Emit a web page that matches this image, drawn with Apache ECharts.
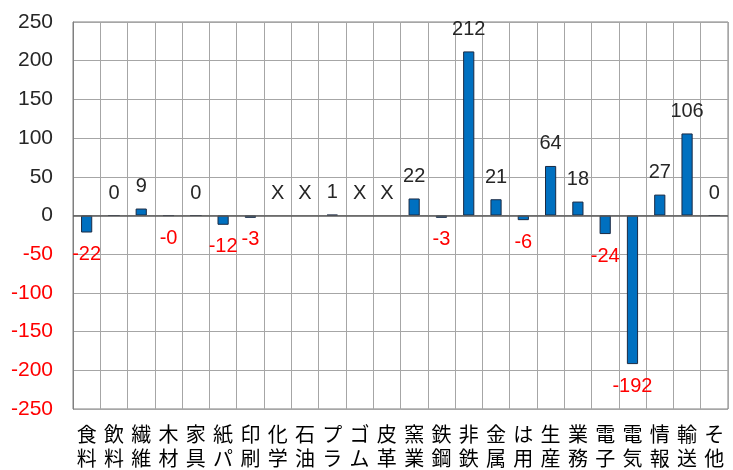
<!DOCTYPE html>
<html><head><meta charset="utf-8">
<script src="https://cdn.jsdelivr.net/npm/echarts@6/dist/echarts.min.js"></script>
<style>html,body{margin:0;padding:0;background:#fff}#c{width:733px;height:470px}</style>
</head><body><div id="c"></div>
<script>
const categories = ['食料','飲料','繊維','木材','家具','紙パ','印刷','化学','石油','プラ','ゴム','皮革','窯業','鉄鋼','非鉄','金属','は用','生産','業務','電子','電気','情報','輸送','そ他'];
// null = not disclosed ("X")
const values = [-22, 0, 9, -0.2, 0, -12, -3, null, null, 1, null, null, 22, -3, 212, 21, -6, 64, 18, -24, -192, 27, 106, 0];
const valueLabels = ['-22','0','9','-0','0','-12','-3','X','X','1','X','X','22','-3','212','21','-6','64','18','-24','-192','27','106','0'];
const yTicks = [-250,-200,-150,-100,-50,0,50,100,150,200,250];

const FONT = '"Liberation Sans", "Noto Sans CJK JP", sans-serif';
const data = values.map((v, i) => {
  const neg = v !== null && (v < 0 || valueLabels[i].startsWith('-'));
  const item = {
    value: v === null ? 0 : v,
    label: {
      show: true,
      position: neg ? 'bottom' : 'top',
      distance: 12,
      color: neg ? '#FF0000' : '#262626',
      formatter: valueLabels[i]
    }
  };
  if (v === null) item.itemStyle = { color: 'rgba(0,0,0,0)', borderColor: 'rgba(0,0,0,0)', borderWidth: 0 };
  return item;
});

const chart = echarts.init(document.getElementById('c'), null, { renderer: 'canvas' });
chart.setOption({
  animation: false,
  textStyle: { fontFamily: FONT },
  grid: { left: 73, right: 5, top: 22, bottom: 60, show: true, borderColor: '#7f7f7f', borderWidth: 1 },
  xAxis: {
    type: 'category',
    data: categories,
    axisLine: { show: false },
    axisTick: { show: false },
    splitLine: { show: true, interval: 0, lineStyle: { color: '#a6a6a6', width: 1 } },
    axisLabel: {
      interval: 0,
      margin: 13,
      fontSize: 20,
      lineHeight: 24,
      color: '#000',
      fontFamily: '"Noto Sans CJK JP", sans-serif',
      formatter: s => s.split('').join('\n')
    }
  },
  yAxis: {
    type: 'value',
    min: -250, max: 250, interval: 50,
    axisLine: { show: true, lineStyle: { color: '#7f7f7f' } },
    axisTick: { show: false },
    splitLine: { show: true, lineStyle: { color: '#a6a6a6', width: 1 } },
    axisLabel: {
      fontSize: 21,
      fontFamily: FONT,
      margin: 20,
      color: v => (Number(v) < 0 ? '#FF0000' : '#262626'),
      formatter: v => String(v)
    }
  },
  series: [{
    type: 'bar',
    data: data,
    barWidth: '41%',
    itemStyle: { color: '#0070C0', borderColor: '#1a2a44', borderWidth: 1 },
    label: { fontSize: 20, fontFamily: FONT },
    markLine: {
      silent: true, symbol: 'none', label: { show: false },
      lineStyle: { color: '#595959', width: 1.5, type: 'solid' },
      data: [{ yAxis: 0 }]
    }
  }]
});
</script></body></html>
